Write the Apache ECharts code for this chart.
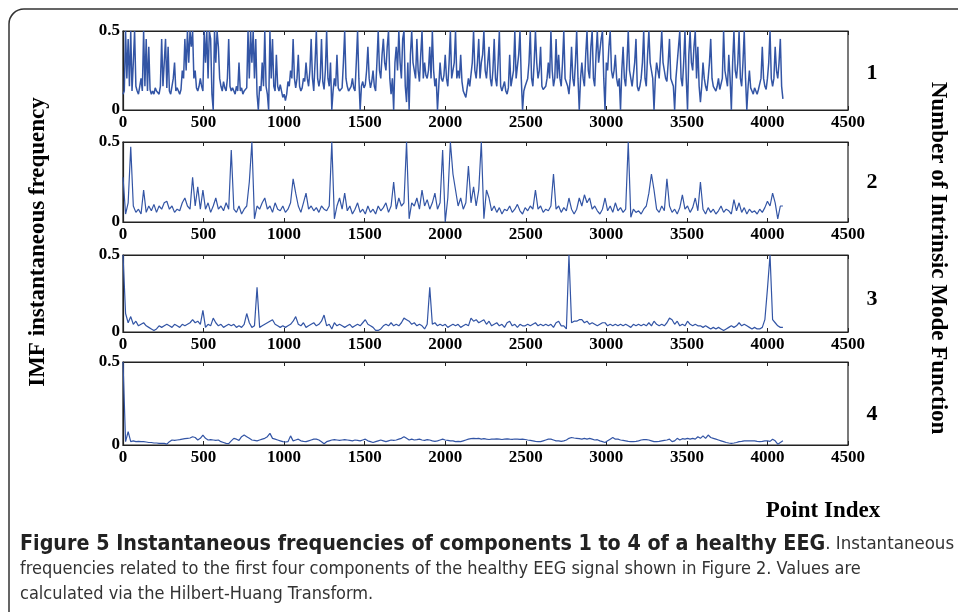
<!DOCTYPE html>
<html>
<head>
<meta charset="utf-8">
<script src="https://cdn.jsdelivr.net/npm/echarts@6/dist/echarts.min.js"></script>
<style>
html,body{margin:0;padding:0;background:#fff;}
#chart{width:958px;height:612px;}
</style>
</head>
<body>
<div id="chart"></div>
<script>
// ---- data ----
// imf1 has one value every 8 samples, imf2..imf4 one value every 16 samples
const sampleSteps = [8, 16, 16, 16];
const panelLabels = ['1', '2', '3', '4'];
const xTickMax = 4500;
const xTickStep = 500;
const yMax = 0.5;

const imf1 = [
0.1,0.12,0.5,0.2,0.45,0.15,0.5,0.12,0.3,0.5,0.15,0.12,0.1,0.15,0.2,0.12,
0.5,0.15,0.45,0.12,0.4,0.13,0.1,0.12,0.1,0.14,0.12,0.13,0.1,0.15,0.45,0.15,
0.3,0.45,0.14,0.4,0.12,0.1,0.15,0.2,0.3,0.12,0.14,0.12,0.1,0.13,0.25,0.2,
0.45,0.25,0.5,0.3,0.5,0.4,0.5,0.2,0.25,0.14,0.12,0.15,0.2,0.15,0.12,0.5,
0.3,0.5,0.2,0.5,0.45,0.1,0.0,0.5,0.3,0.5,0.4,0.2,0.15,0.12,0.18,0.14,
0.12,0.2,0.45,0.15,0.12,0.14,0.12,0.1,0.15,0.12,0.3,0.12,0.14,0.1,0.12,0.13,
0.14,0.5,0.2,0.5,0.3,0.5,0.2,0.45,0.1,0.0,0.15,0.12,0.3,0.15,0.5,0.15,
0.1,0.0,0.5,0.2,0.45,0.15,0.12,0.35,0.15,0.12,0.16,0.12,0.08,0.1,0.06,0.1,
0.18,0.15,0.25,0.2,0.45,0.2,0.14,0.2,0.35,0.15,0.12,0.14,0.2,0.18,0.3,0.2,
0.15,0.25,0.45,0.2,0.12,0.3,0.5,0.2,0.15,0.2,0.45,0.18,0.13,0.25,0.5,0.2,
0.15,0.3,0.0,0.12,0.2,0.15,0.35,0.14,0.12,0.11,0.14,0.3,0.5,0.2,0.15,0.12,
0.13,0.15,0.2,0.14,0.12,0.3,0.5,0.2,0.0,0.15,0.18,0.14,0.16,0.25,0.4,0.2,
0.14,0.18,0.25,0.15,0.12,0.3,0.5,0.25,0.2,0.35,0.45,0.3,0.25,0.4,0.5,0.2,
0.1,0.2,0.0,0.3,0.4,0.25,0.5,0.3,0.2,0.45,0.5,0.15,0.05,0.3,0.0,0.35,
0.5,0.3,0.25,0.2,0.45,0.25,0.18,0.35,0.5,0.2,0.3,0.22,0.2,0.25,0.4,0.2,
0.5,0.25,0.15,0.2,0.0,0.15,0.3,0.2,0.18,0.22,0.35,0.2,0.15,0.3,0.5,0.2,
0.2,0.3,0.5,0.2,0.25,0.2,0.35,0.18,0.12,0.1,0.08,0.14,0.2,0.15,0.15,0.3,
0.5,0.25,0.2,0.3,0.45,0.2,0.3,0.35,0.5,0.25,0.2,0.3,0.4,0.2,0.15,0.25,
0.45,0.2,0.15,0.3,0.5,0.15,0.12,0.15,0.18,0.12,0.1,0.14,0.35,0.15,0.14,0.25,
0.5,0.2,0.2,0.35,0.5,0.2,0.0,0.12,0.15,0.14,0.2,0.3,0.5,0.2,0.15,0.3,
0.5,0.3,0.2,0.25,0.4,0.15,0.13,0.12,0.15,0.2,0.3,0.2,0.5,0.25,0.15,0.2,
0.45,0.2,0.35,0.2,0.15,0.3,0.5,0.2,0.2,0.15,0.1,0.2,0.4,0.2,0.15,0.3,
0.5,0.2,0.0,0.2,0.3,0.2,0.15,0.35,0.5,0.25,0.2,0.4,0.5,0.2,0.15,0.35,
0.5,0.3,0.3,0.45,0.5,0.2,0.0,0.3,0.25,0.4,0.5,0.25,0.2,0.25,0.35,0.2,
0.15,0.2,0.0,0.25,0.4,0.2,0.15,0.3,0.5,0.25,0.2,0.15,0.15,0.3,0.45,0.15,
0.12,0.15,0.2,0.3,0.5,0.2,0.15,0.35,0.5,0.3,0.25,0.2,0.0,0.2,0.3,0.25,
0.2,0.35,0.5,0.3,0.25,0.2,0.18,0.3,0.45,0.2,0.2,0.15,0.0,0.2,0.3,0.4,
0.5,0.2,0.15,0.3,0.5,0.2,0.0,0.35,0.5,0.3,0.25,0.4,0.5,0.2,0.4,0.15,
0.05,0.15,0.3,0.2,0.15,0.12,0.2,0.3,0.45,0.2,0.15,0.14,0.12,0.15,0.2,0.13,
0.14,0.2,0.5,0.25,0.2,0.15,0.35,0.2,0.0,0.3,0.5,0.25,0.2,0.3,0.5,0.2,
0.15,0.3,0.5,0.2,0.0,0.15,0.25,0.14,0.12,0.1,0.14,0.12,0.1,0.13,0.12,0.2,
0.4,0.2,0.15,0.13,0.2,0.3,0.5,0.2,0.15,0.2,0.4,0.25,0.2,0.3,0.45,0.15,
0.07];

const imf2 = [
0.28,0.05,0.12,0.47,0.1,0.06,0.08,0.05,0.2,0.06,0.1,0.07,0.11,0.06,0.1,0.08,
0.12,0.13,0.08,0.1,0.06,0.08,0.07,0.12,0.15,0.1,0.08,0.28,0.1,0.22,0.08,0.2,
0.08,0.12,0.06,0.1,0.15,0.08,0.1,0.07,0.12,0.08,0.45,0.08,0.06,0.1,0.05,0.08,
0.1,0.25,0.5,0.02,0.1,0.08,0.12,0.15,0.08,0.1,0.06,0.12,0.08,0.07,0.1,0.06,
0.08,0.12,0.27,0.18,0.1,0.06,0.12,0.18,0.08,0.1,0.07,0.09,0.06,0.1,0.08,0.07,
0.1,0.5,0.02,0.1,0.15,0.08,0.18,0.07,0.1,0.05,0.08,0.12,0.06,0.08,0.05,0.1,
0.06,0.08,0.05,0.1,0.07,0.09,0.12,0.06,0.1,0.25,0.08,0.15,0.1,0.12,0.5,0.02,
0.12,0.1,0.15,0.08,0.2,0.1,0.14,0.08,0.12,0.18,0.08,0.12,0.45,0.0,0.15,0.5,
0.3,0.2,0.1,0.15,0.08,0.12,0.35,0.12,0.22,0.1,0.2,0.5,0.02,0.2,0.15,0.07,
0.1,0.06,0.09,0.05,0.08,0.07,0.1,0.06,0.08,0.11,0.07,0.05,0.09,0.07,0.1,0.08,
0.2,0.08,0.1,0.06,0.08,0.07,0.1,0.3,0.08,0.1,0.06,0.09,0.07,0.15,0.08,0.05,
0.08,0.15,0.1,0.17,0.12,0.15,0.08,0.1,0.07,0.05,0.08,0.15,0.07,0.1,0.06,0.12,
0.07,0.09,0.06,0.08,0.5,0.03,0.08,0.06,0.07,0.05,0.08,0.1,0.18,0.3,0.2,0.08,
0.06,0.1,0.07,0.27,0.1,0.06,0.08,0.05,0.09,0.17,0.08,0.1,0.06,0.09,0.15,0.07,
0.25,0.08,0.05,0.09,0.06,0.08,0.05,0.07,0.1,0.06,0.08,0.07,0.05,0.14,0.07,0.12,
0.06,0.09,0.05,0.08,0.06,0.07,0.05,0.08,0.06,0.09,0.13,0.1,0.18,0.12,0.02,0.1,
0.1];

const imf3 = [
0.5,0.12,0.06,0.1,0.05,0.07,0.04,0.05,0.06,0.04,0.03,0.02,0.01,0.02,0.04,0.03,
0.04,0.05,0.04,0.03,0.05,0.04,0.03,0.05,0.04,0.05,0.06,0.08,0.06,0.07,0.05,0.14,
0.03,0.05,0.04,0.09,0.06,0.04,0.05,0.03,0.04,0.05,0.04,0.05,0.03,0.04,0.03,0.05,
0.12,0.06,0.03,0.04,0.29,0.03,0.04,0.05,0.06,0.07,0.08,0.05,0.04,0.03,0.04,0.03,
0.04,0.05,0.07,0.1,0.05,0.04,0.06,0.03,0.04,0.05,0.06,0.04,0.05,0.07,0.11,0.04,
0.05,0.02,0.06,0.04,0.05,0.04,0.03,0.04,0.05,0.03,0.04,0.05,0.04,0.06,0.08,0.05,
0.04,0.03,0.01,0.01,0.02,0.04,0.05,0.04,0.06,0.04,0.05,0.04,0.06,0.09,0.08,0.07,
0.05,0.06,0.04,0.05,0.04,0.02,0.05,0.29,0.05,0.06,0.04,0.05,0.04,0.05,0.03,0.04,
0.05,0.04,0.05,0.03,0.04,0.05,0.04,0.09,0.07,0.08,0.06,0.07,0.08,0.05,0.07,0.04,
0.05,0.06,0.04,0.05,0.03,0.06,0.07,0.04,0.05,0.03,0.05,0.04,0.04,0.05,0.04,0.05,
0.06,0.04,0.05,0.04,0.05,0.04,0.05,0.03,0.06,0.07,0.04,0.04,0.02,0.5,0.06,0.07,
0.07,0.08,0.08,0.06,0.07,0.05,0.06,0.05,0.04,0.05,0.06,0.06,0.04,0.05,0.04,0.05,
0.04,0.05,0.04,0.05,0.04,0.03,0.05,0.04,0.05,0.04,0.05,0.04,0.06,0.04,0.07,0.05,
0.04,0.05,0.04,0.06,0.09,0.08,0.05,0.07,0.04,0.05,0.04,0.07,0.05,0.04,0.05,0.04,
0.04,0.03,0.04,0.03,0.02,0.03,0.02,0.03,0.02,0.01,0.02,0.03,0.04,0.03,0.04,0.06,
0.04,0.05,0.04,0.03,0.02,0.03,0.02,0.02,0.03,0.08,0.28,0.5,0.08,0.06,0.04,0.03,
0.03];

const imf4 = [
0.5,0.02,0.08,0.02,0.025,0.02,0.022,0.02,0.02,0.018,0.015,0.015,0.012,0.012,0.01,0.01,
0.01,0.005,0.02,0.03,0.028,0.03,0.032,0.035,0.038,0.04,0.042,0.05,0.045,0.03,0.04,0.06,
0.04,0.03,0.032,0.03,0.028,0.03,0.02,0.015,0.01,0.008,0.025,0.04,0.035,0.028,0.05,0.06,
0.05,0.04,0.03,0.028,0.025,0.03,0.035,0.04,0.05,0.07,0.04,0.035,0.03,0.025,0.02,0.018,
0.02,0.055,0.025,0.03,0.035,0.025,0.022,0.02,0.025,0.03,0.035,0.035,0.03,0.02,0.008,0.02,
0.025,0.03,0.032,0.03,0.028,0.03,0.032,0.03,0.028,0.025,0.03,0.028,0.025,0.03,0.035,0.025,
0.02,0.015,0.02,0.025,0.03,0.025,0.02,0.025,0.03,0.028,0.03,0.035,0.04,0.05,0.04,0.03,
0.035,0.03,0.032,0.035,0.03,0.028,0.032,0.03,0.025,0.022,0.025,0.03,0.035,0.03,0.028,0.025,
0.025,0.02,0.022,0.02,0.025,0.03,0.035,0.038,0.04,0.038,0.04,0.035,0.038,0.035,0.033,0.035,
0.035,0.037,0.035,0.033,0.035,0.037,0.035,0.034,0.036,0.035,0.034,0.035,0.033,0.03,0.028,0.025,
0.022,0.02,0.02,0.025,0.03,0.035,0.035,0.03,0.025,0.025,0.022,0.025,0.03,0.04,0.045,0.042,
0.04,0.038,0.035,0.04,0.035,0.04,0.035,0.03,0.032,0.025,0.02,0.015,0.025,0.035,0.045,0.035,
0.035,0.03,0.028,0.025,0.022,0.02,0.02,0.022,0.025,0.03,0.032,0.032,0.03,0.025,0.02,0.02,
0.022,0.025,0.028,0.03,0.035,0.02,0.025,0.04,0.03,0.038,0.035,0.04,0.035,0.04,0.035,0.05,
0.04,0.055,0.04,0.06,0.045,0.04,0.035,0.03,0.025,0.02,0.015,0.012,0.01,0.012,0.015,0.02,
0.022,0.025,0.025,0.025,0.025,0.025,0.022,0.02,0.022,0.025,0.025,0.022,0.035,0.025,0.005,0.015,
0.025];

const imfSeries = [imf1, imf2, imf3, imf4];

// ---- layout ----
const panels = [
  { top: 31, height: 79, labelY: 73 },
  { top: 142, height: 80, labelY: 182 },
  { top: 255, height: 77, labelY: 299 },
  { top: 362, height: 83, labelY: 414 }
];
const lineWidths = [1.5, 1.2, 1.2, 1.2];
const plotLeft = 123, plotWidth = 725;
const serifBold = { fontFamily: '"Liberation Serif","Times New Roman",serif', fontWeight: 'bold', color: '#000' };
const lineColor = '#3355a5';
const captionFont = '"Liberation Sans Narrow","DejaVu Sans Condensed","Open Sans",sans-serif';
const titleFont = 'bold 23px "Liberation Serif","Times New Roman",serif';

const grids = [], xAxes = [], yAxes = [], series = [];
panels.forEach((p, i) => {
  grids.push({ left: plotLeft, top: p.top, width: plotWidth, height: p.height,
    show: true, borderColor: '#222', borderWidth: 1.2, backgroundColor: 'transparent', containLabel: false });
  xAxes.push({ type: 'value', gridIndex: i, min: 0, max: xTickMax, interval: xTickStep, position: 'bottom',
    axisLine: { show: true, onZero: false, lineStyle: { color: '#222', width: 1.2 } },
    axisTick: { show: true, inside: true, length: 4, lineStyle: { color: '#222' } },
    axisLabel: Object.assign({ fontSize: 17, margin: 4, formatter: v => String(v) }, serifBold),
    splitLine: { show: false } });
  xAxes.push({ type: 'value', gridIndex: i, min: 0, max: xTickMax, interval: xTickStep, position: 'top',
    axisLine: { show: true, onZero: false, lineStyle: { color: '#222', width: 1.2 } },
    axisTick: { show: true, inside: true, length: 4, lineStyle: { color: '#222' } },
    axisLabel: { show: false }, splitLine: { show: false } });
  yAxes.push({ type: 'value', gridIndex: i, min: 0, max: yMax, interval: yMax,
    axisLine: { show: true, onZero: false, lineStyle: { color: '#222', width: 1.2 } },
    axisTick: { show: false },
    axisLabel: Object.assign({ fontSize: 17, margin: 3, formatter: v => String(v) }, serifBold),
    splitLine: { show: false } });
  series.push({ type: 'line', xAxisIndex: i * 2, yAxisIndex: i,
    data: imfSeries[i].map((v, k) => [k * sampleSteps[i], v]),
    showSymbol: false, symbol: 'none', animation: false, clip: true,
    lineStyle: { color: lineColor, width: lineWidths[i] } });
});

const graphics = [
  { type: 'rect', shape: { x: 9, y: 9, width: 1000, height: 700, r: 15 },
    style: { fill: 'none', stroke: '#333', lineWidth: 1.5 }, silent: true },
  { type: 'text', x: 38, y: 242, rotation: Math.PI / 2,
    style: { text: 'IMF instantaneous frequency', font: titleFont,
      fill: '#000', textAlign: 'center', textVerticalAlign: 'middle' } },
  { type: 'text', x: 938, y: 258, rotation: -Math.PI / 2,
    style: { text: 'Number of Intrinsic Mode Function', font: titleFont,
      fill: '#000', textAlign: 'center', textVerticalAlign: 'middle' } },
  { type: 'text', x: 823, y: 511,
    style: { text: 'Point Index', font: titleFont,
      fill: '#000', textAlign: 'center', textVerticalAlign: 'middle' } },
  { type: 'text', x: 20, y: 544,
    style: { text: '{b|Figure 5 Instantaneous frequencies of components 1 to 4 of a healthy EEG}{n|. Instantaneous}',
      textVerticalAlign: 'middle',
      rich: {
        b: { font: 'bold 21.3px ' + captionFont, fill: '#222' },
        n: { font: '18.5px ' + captionFont, fill: '#333' }
      } } },
  { type: 'text', x: 20, y: 569,
    style: { text: 'frequencies related to the first four components of the healthy EEG signal shown in Figure 2. Values are',
      font: '18px ' + captionFont, fill: '#333', textVerticalAlign: 'middle' } },
  { type: 'text', x: 20, y: 594,
    style: { text: 'calculated via the Hilbert-Huang Transform.',
      font: '18px ' + captionFont, fill: '#333', textVerticalAlign: 'middle' } }
];
panels.forEach((p, i) => {
  graphics.push({ type: 'text', x: 872, y: p.labelY,
    style: { text: panelLabels[i], font: 'bold 22px "Liberation Serif","Times New Roman",serif',
      fill: '#000', textAlign: 'center', textVerticalAlign: 'middle' } });
});

const chart = echarts.init(document.getElementById('chart'), null, { renderer: 'canvas' });
chart.setOption({
  animation: false,
  backgroundColor: '#fff',
  grid: grids,
  xAxis: xAxes,
  yAxis: yAxes,
  series: series,
  graphic: graphics
});
</script>
</body>
</html>
